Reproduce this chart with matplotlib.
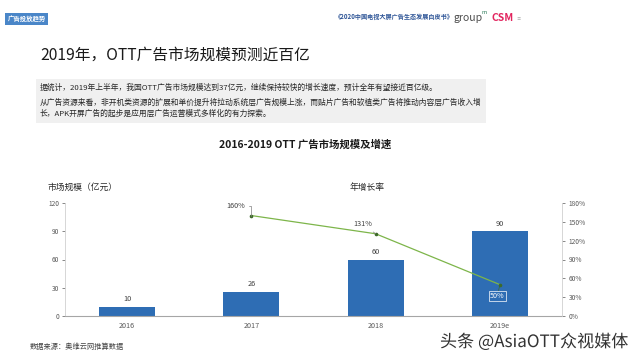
import matplotlib
matplotlib.use("Agg")
import matplotlib.pyplot as plt
import matplotlib.patches as mpatches
import matplotlib.patheffects as pe
import numpy as np

plt.rcParams['font.family'] = ['Noto Sans CJK SC', 'DejaVu Sans']

# data
years = ["2016", "2017", "2018", "2019e"]
market_size = [10, 26, 60, 90]          # 亿元
growth_years = ["2017", "2018", "2019e"]
growth_rate = [160, 131, 50]            # %
growth_labels = ["160%", "131%", "50%"]
left_ticks = [0, 30, 60, 90, 120]
right_ticks = [0, 30, 60, 90, 120, 150, 180]

W, H = 640, 360
bar_color = "#2E6DB4"
line_color = "#7DB54A"
tick_color = "#595959"

fig = plt.figure(figsize=(W / 100, H / 100), dpi=100)
fig.patch.set_facecolor("white")


def px(x, y):
    return x / W, 1 - y / H


# header badge
badge = mpatches.Rectangle(px(5, 25), 43 / W, 12 / H, transform=fig.transFigure,
                           facecolor="#4A86C8", edgecolor="none")
fig.patches.append(badge)
fig.text(*px(26.5, 19), "广告投放趋势", color="white", fontsize=4.6, fontweight="bold",
         ha="center", va="center")

# header right
fig.text(*px(394, 17), "《2020中国电视大屏广告生态发展白皮书》", color="#2E5597", fontsize=4.4,
         fontweight="bold", ha="center", va="center")
fig.text(*px(454, 18), "group", color="#4D4D4D", fontsize=7.5, ha="left", va="center")
fig.text(*px(482, 12), "m", color="#2E7D5B", fontsize=4.2, ha="left", va="center")
fig.text(*px(492, 18), "CSM", color="#E2245E", fontsize=7.5, fontweight="bold",
         fontstyle="italic", ha="left", va="center")
fig.text(*px(516, 19), "≡", color="#AAAAAA", fontsize=3, ha="left", va="center")

# slide title
fig.text(*px(40, 55), "2019年，OTT广告市场规模预测近百亿", color="#1A1A1A", fontsize=11.3,
         ha="left", va="center")

# grey text box
box = mpatches.Rectangle(px(36, 123), 450 / W, 44 / H, transform=fig.transFigure,
                         facecolor="#F0F0F0", edgecolor="none")
fig.patches.append(box)
fig.text(*px(40, 88), "据统计，2019年上半年，我国OTT广告市场规模达到37亿元，继续保持较快的增长速度，预计全年有望接近百亿级。",
         color="#262626", fontsize=5.6, ha="left", va="center")
fig.text(*px(40, 103), "从广告资源来看，非开机类资源的扩展和单价提升将拉动系统层广告规模上涨，而贴片广告和软植类广告将推动内容层广告收入增",
         color="#262626", fontsize=5.6, ha="left", va="center")
fig.text(*px(40, 114), "长，APK开屏广告的起步是应用层广告运营模式多样化的有力探索。",
         color="#262626", fontsize=5.6, ha="left", va="center")

# chart title
fig.text(*px(305, 145), "2016-2019 OTT 广告市场规模及增速", color="#1A1A1A", fontsize=7.5,
         fontweight="bold", ha="center", va="center")
fig.text(*px(48, 187), "市场规模（亿元）", color="#262626", fontsize=6.3, ha="left", va="center")
fig.text(*px(350, 187), "年增长率", color="#262626", fontsize=6.3, ha="left", va="center")

# axes
ax = fig.add_axes([65 / W, 44 / H, 497 / W, 113 / H])
x = np.arange(len(years))
ax.bar(x, market_size, width=0.45, color=bar_color, zorder=2)
for xi, v in zip(x, market_size):
    ax.text(xi, v + 3.5, str(v), ha="center", va="bottom", fontsize=5.3, color="#404040")

ax.set_xlim(-0.5, len(years) - 0.5)
ax.set_ylim(0, 120)
ax.set_yticks(left_ticks)
ax.set_xticks(x)
ax.set_xticklabels(years)
for s in ["top", "right"]:
    ax.spines[s].set_visible(False)
ax.spines["left"].set_color("#D0D0D0")
ax.spines["bottom"].set_color("#A6A6A6")
ax.spines["left"].set_linewidth(0.6)
ax.spines["bottom"].set_linewidth(0.8)
ax.tick_params(axis="y", labelsize=4.8, colors=tick_color, length=2, width=0.5, pad=2)
ax.tick_params(axis="x", labelsize=5.2, colors=tick_color, length=0, pad=4)

ax2 = ax.twinx()
ax2.set_ylim(0, 180)
ax2.set_yticks(right_ticks)
ax2.set_yticklabels([f"{t}%" for t in right_ticks])
for s in ["top", "left", "bottom"]:
    ax2.spines[s].set_visible(False)
ax2.spines["right"].set_color("#D0D0D0")
ax2.spines["right"].set_linewidth(0.6)
ax2.tick_params(axis="y", labelsize=4.8, colors=tick_color, length=2, width=0.5, pad=3)

gx = [years.index(y) for y in growth_years]
ax2.plot(gx, growth_rate, color=line_color, lw=0.9, marker="o", markersize=1.6,
         markerfacecolor="#3E6B2A", markeredgecolor="#3E6B2A", zorder=3)

# labels with leader lines
ax2.annotate(growth_labels[0], xy=(gx[0], growth_rate[0]),
             xytext=(gx[0] - 0.05, growth_rate[0] + 16), fontsize=5.2, color="#404040",
             ha="right", va="center",
             arrowprops=dict(arrowstyle="-", color="#808080", lw=0.5, shrinkA=1, shrinkB=0,
                             connectionstyle="angle,angleA=0,angleB=90,rad=0"))
ax2.annotate(growth_labels[1], xy=(gx[1], growth_rate[1]),
             xytext=(gx[1] - 0.1, growth_rate[1] + 15), fontsize=5.2, color="#404040",
             ha="center", va="center",
             arrowprops=dict(arrowstyle="-", color="#808080", lw=0.5, shrinkA=1, shrinkB=0))
ax2.annotate(growth_labels[2], xy=(gx[2], growth_rate[2]),
             xytext=(gx[2] - 0.02, growth_rate[2] - 18), fontsize=5.2, color="white",
             ha="center", va="center",
             bbox=dict(boxstyle="square,pad=0.15", facecolor=bar_color,
                       edgecolor="white", lw=0.5),
             arrowprops=dict(arrowstyle="-", color="#3E6B2A", lw=0.5, shrinkA=0, shrinkB=0))

# footer
fig.text(*px(30, 347), "数据来源：奥维云网推算数据", color="#404040", fontsize=5.2,
         ha="left", va="center")
fig.text(*px(440, 342), "头条 @AsiaOTT众视媒体", color="#333333", fontsize=12.3,
         ha="left", va="center",
         path_effects=[pe.withStroke(linewidth=1.5, foreground="white")])

fig.savefig("out.png", dpi=100)
